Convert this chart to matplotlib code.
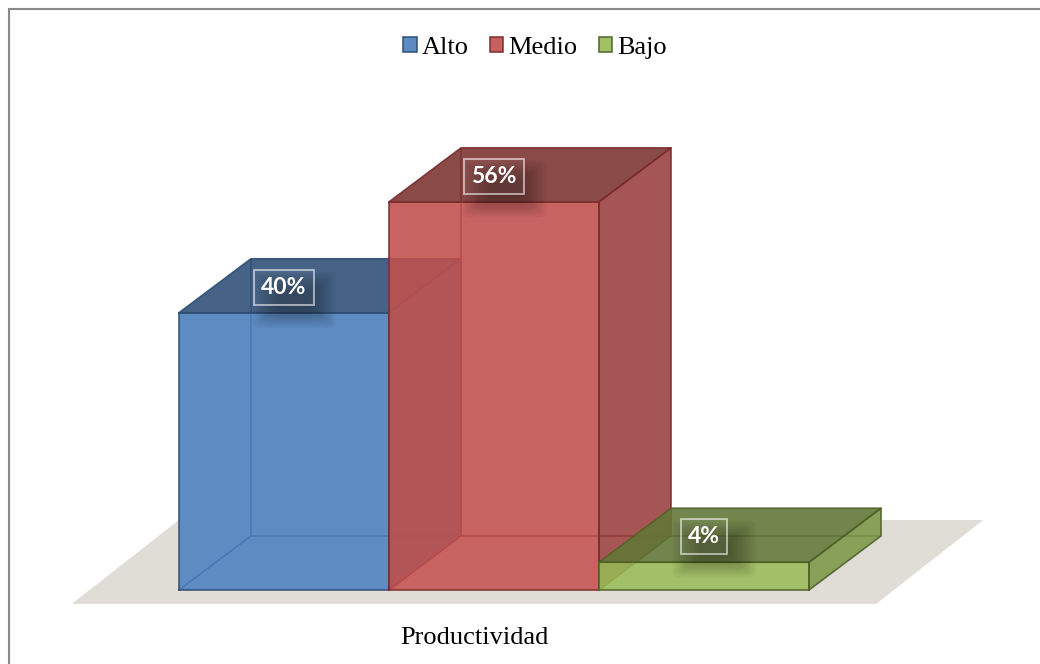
import matplotlib
matplotlib.use("Agg")
import numpy as np
from matplotlib import pyplot as plt
from matplotlib.patches import Polygon, Rectangle, FancyBboxPatch, Patch
from matplotlib.lines import Line2D

categories = ["Alto", "Medio", "Bajo"]
values = [40, 56, 4]
axis_title = "Productividad"

base_colors = ["#4A7DBB", "#C0504D", "#98B955"]
edge_colors = ["#2C4D75", "#7B2C2C", "#4F6228"]

# projection of the box depth, in data units
DEPTH_X = 0.343
DEPTH_Y = 7.8
FACE_ALPHA = 0.89


def shade(color, k):
    rgb = np.array(matplotlib.colors.to_rgb(color))
    return tuple(rgb * k)


def outline(x0, x1, h):
    dx, dy = DEPTH_X, DEPTH_Y
    return [(x0, 0), (x1, 0), (x1 + dx, dy), (x1 + dx, h + dy), (x0 + dx, h + dy), (x0, h)]


def draw_box(ax, x0, x1, h, color, edge, z):
    dx, dy = DEPTH_X, DEPTH_Y
    # edges hidden behind the faces, seen through the transparency
    hidden = [
        [(x0 + dx, dy), (x0 + dx, h + dy)],
        [(x0 + dx, dy), (x1 + dx, dy)],
        [(x0, 0), (x0 + dx, dy)],
    ]
    for seg in hidden:
        xs, ys = zip(*seg)
        ax.plot(xs, ys, color=edge, lw=1.1, zorder=z, solid_capstyle="butt")

    top = [(x0, h), (x1, h), (x1 + dx, h + dy), (x0 + dx, h + dy)]
    side = [(x1, 0), (x1 + dx, dy), (x1 + dx, h + dy), (x1, h)]
    ax.add_patch(Polygon(side, closed=True, facecolor=shade(color, 0.8), edgecolor="none",
                         alpha=FACE_ALPHA, zorder=z + 0.1))
    ax.add_patch(Polygon(top, closed=True, facecolor=shade(color, 0.64), edgecolor="none",
                         alpha=FACE_ALPHA, zorder=z + 0.2))
    ax.add_patch(Rectangle((x0, 0), x1 - x0, h, facecolor=color, edgecolor="none",
                           alpha=FACE_ALPHA, zorder=z + 0.3))
    for poly in (side, top, [(x0, 0), (x1, 0), (x1, h), (x0, h)]):
        ring = poly + [poly[0]]
        xs, ys = zip(*ring)
        ax.plot(xs, ys, color=edge, lw=1.2, alpha=0.9, zorder=z + 0.4)


def main() -> None:
    fig = plt.figure(figsize=(10.4, 6.64), dpi=100)
    fig.patch.set_facecolor("white")
    ax = fig.add_axes([0, 0, 1, 1])
    ax.set_xlim(-1.352, 3.6)
    ax.set_ylim(-10.68, 85.14)
    ax.axis("off")

    # floor, with the bar footprints kept white so it does not tint the bars
    floor = [(-1.01, -2.0), (2.82, -2.0), (3.33, 10.1), (-0.5, 10.1)]
    ax.add_patch(Polygon(floor, closed=True, facecolor="#E0DDD7", edgecolor="none", zorder=1))
    for i, v in enumerate(values):
        ax.add_patch(Polygon(outline(i - 0.5, i + 0.5, v), closed=True,
                             facecolor="white", edgecolor="none", zorder=1.5))

    for i, (v, c, e) in enumerate(zip(values, base_colors, edge_colors)):
        draw_box(ax, i - 0.5, i + 0.5, v, c, e, z=2 + i)

    # data labels on the top faces, with a soft shadow underneath
    for i, (v, c) in enumerate(zip(values, base_colors)):
        cx, cy = i, v + DEPTH_Y / 2
        for k in range(10):
            w = 0.16 + 0.026 * k
            hgt = 2.8 + 0.6 * k
            ax.add_patch(FancyBboxPatch((cx + 0.05 - w / 2, cy - 2.0 - hgt / 2), w, hgt,
                                        boxstyle="round,pad=0,rounding_size=0.06",
                                        mutation_aspect=8,
                                        facecolor="black", edgecolor="none",
                                        alpha=0.035, zorder=10))
        ax.text(cx, cy - 0.2, f"{v}%", ha="center", va="center", color="white",
                fontsize=16.5, fontweight="bold", family=["Lato", "DejaVu Sans"], zorder=12,
                bbox=dict(boxstyle="square,pad=0.3", facecolor=(1, 1, 1, 0.04),
                          edgecolor=(1, 1, 1, 0.6), lw=1.3))

    ax.text((floor[0][0] + floor[1][0]) / 2, -6.9, axis_title, ha="center", va="center",
            fontsize=19, family="Liberation Serif", color="black")

    handles = [Patch(facecolor=c, edgecolor=e, lw=1.2, alpha=0.9)
               for c, e in zip(base_colors, edge_colors)]
    fig.legend(handles, categories, loc="center", bbox_to_anchor=(535 / 1040, 1 - 48 / 664),
               ncol=3, frameon=False, prop={"family": "Liberation Serif", "size": 19},
               handlelength=0.5, handleheight=0.5, handletextpad=0.2,
               columnspacing=0.8, borderaxespad=0)

    # chart area border (left and top edges)
    border = dict(color="#8A8A8A", lw=1.5, transform=fig.transFigure)
    fig.add_artist(Line2D([9 / 1040, 1], [1 - 9 / 664, 1 - 9 / 664], **border))
    fig.add_artist(Line2D([9 / 1040, 9 / 1040], [0, 1 - 9 / 664], **border))

    fig.savefig("out.png", dpi=100)


if __name__ == "__main__":
    main()
